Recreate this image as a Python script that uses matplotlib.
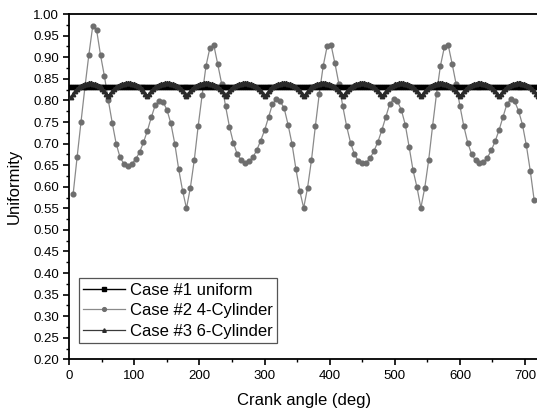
import matplotlib
matplotlib.use("Agg")
import matplotlib.pyplot as plt
from matplotlib.ticker import MultipleLocator

plt.rcParams["font.family"] = ["Liberation Sans", "DejaVu Sans"]

# Case #1: uniform firing, constant uniformity
uniform_x = list(range(0, 721, 3))
uniform_level = 0.832
uniform_y = [uniform_level] * len(uniform_x)

# Case #2: 4-cylinder, one point every 6 deg
cyl4_x = list(range(6, 715, 6))
cyl4_y = [
    # 6 .. 180
    0.584, 0.668, 0.750, 0.830, 0.905, 0.972, 0.963, 0.905, 0.856, 0.800,
    0.748, 0.700, 0.668, 0.653, 0.649, 0.653, 0.664, 0.680, 0.703, 0.730,
    0.761, 0.789, 0.798, 0.797, 0.778, 0.747, 0.700, 0.641, 0.591, 0.550,
    # 186 .. 360
    0.598, 0.662, 0.741, 0.812, 0.880, 0.922, 0.928, 0.884, 0.839, 0.787,
    0.739, 0.702, 0.675, 0.662, 0.655, 0.659, 0.668, 0.685, 0.707, 0.731,
    0.761, 0.791, 0.803, 0.798, 0.782, 0.744, 0.700, 0.642, 0.590, 0.551,
    # 366 .. 540
    0.598, 0.662, 0.741, 0.816, 0.880, 0.925, 0.929, 0.886, 0.839, 0.787,
    0.740, 0.702, 0.675, 0.660, 0.654, 0.656, 0.666, 0.683, 0.704, 0.731,
    0.761, 0.791, 0.803, 0.798, 0.778, 0.744, 0.692, 0.638, 0.599, 0.551,
    # 546 .. 714
    0.598, 0.662, 0.741, 0.815, 0.880, 0.923, 0.928, 0.885, 0.839, 0.787,
    0.740, 0.702, 0.675, 0.661, 0.655, 0.657, 0.667, 0.684, 0.705, 0.731,
    0.761, 0.791, 0.803, 0.798, 0.776, 0.744, 0.696, 0.637, 0.569,
]

# Case #3: 6-cylinder, one point every 3 deg (one row = 60 deg)
cyl6_x = list(range(3, 721, 3))
cyl6_y = [
    0.808, 0.816, 0.822, 0.827, 0.831, 0.834, 0.836, 0.838, 0.839, 0.840, 0.840, 0.839, 0.838, 0.836, 0.834, 0.831, 0.827, 0.822, 0.816, 0.811,
    0.816, 0.822, 0.827, 0.831, 0.834, 0.836, 0.838, 0.839, 0.840, 0.840, 0.840, 0.839, 0.838, 0.836, 0.834, 0.831, 0.827, 0.822, 0.816, 0.811,
    0.816, 0.822, 0.827, 0.831, 0.834, 0.836, 0.838, 0.839, 0.840, 0.840, 0.840, 0.839, 0.838, 0.836, 0.834, 0.831, 0.827, 0.822, 0.816, 0.811,
    0.816, 0.822, 0.827, 0.831, 0.834, 0.836, 0.838, 0.839, 0.840, 0.840, 0.840, 0.839, 0.838, 0.836, 0.834, 0.831, 0.827, 0.822, 0.816, 0.811,
    0.816, 0.822, 0.827, 0.831, 0.834, 0.836, 0.838, 0.839, 0.840, 0.840, 0.840, 0.839, 0.838, 0.836, 0.834, 0.831, 0.827, 0.822, 0.816, 0.811,
    0.816, 0.822, 0.827, 0.831, 0.834, 0.836, 0.838, 0.839, 0.840, 0.840, 0.840, 0.839, 0.838, 0.836, 0.834, 0.831, 0.827, 0.822, 0.816, 0.811,
    0.816, 0.822, 0.827, 0.831, 0.834, 0.836, 0.838, 0.839, 0.840, 0.840, 0.840, 0.839, 0.838, 0.836, 0.834, 0.831, 0.827, 0.822, 0.816, 0.811,
    0.816, 0.822, 0.827, 0.831, 0.834, 0.836, 0.838, 0.839, 0.840, 0.840, 0.840, 0.839, 0.838, 0.836, 0.834, 0.831, 0.827, 0.822, 0.816, 0.811,
    0.816, 0.822, 0.827, 0.831, 0.834, 0.836, 0.838, 0.839, 0.840, 0.840, 0.840, 0.839, 0.838, 0.836, 0.834, 0.831, 0.827, 0.822, 0.816, 0.811,
    0.816, 0.822, 0.827, 0.831, 0.834, 0.836, 0.838, 0.839, 0.840, 0.840, 0.840, 0.839, 0.838, 0.836, 0.834, 0.831, 0.827, 0.822, 0.816, 0.811,
    0.816, 0.822, 0.827, 0.831, 0.834, 0.836, 0.838, 0.839, 0.840, 0.840, 0.840, 0.839, 0.838, 0.836, 0.834, 0.831, 0.827, 0.822, 0.816, 0.811,
    0.816, 0.822, 0.827, 0.831, 0.834, 0.836, 0.838, 0.839, 0.840, 0.840, 0.840, 0.839, 0.838, 0.836, 0.834, 0.831, 0.827, 0.822, 0.816, 0.811,
]

labels = ["Case #1 uniform", "Case #2 4-Cylinder", "Case #3 6-Cylinder"]

fig = plt.figure(figsize=(5.37, 4.15), dpi=100)
ax = fig.add_axes([0.129, 0.134, 0.873, 0.832])

ax.plot(cyl4_x, cyl4_y, color="#8a8a8a", lw=0.9, marker="o", ms=3.4,
        mfc="#6e6e6e", mec="#6e6e6e", label=labels[1], zorder=2)
ax.plot(uniform_x, uniform_y, color="black", lw=1.0, marker="s", ms=3.2,
        mfc="black", mec="black", label=labels[0], zorder=3)
ax.plot(cyl6_x, cyl6_y, color="#3a3a3a", lw=0.9, marker="^", ms=3.2,
        mfc="#2a2a2a", mec="#2a2a2a", label=labels[2], zorder=4)

ax.set_xlim(0, 720)
ax.set_ylim(0.20, 1.00)
ax.xaxis.set_major_locator(MultipleLocator(100))
ax.xaxis.set_minor_locator(MultipleLocator(50))
ax.yaxis.set_major_locator(MultipleLocator(0.05))
ax.yaxis.set_minor_locator(MultipleLocator(0.025))
ax.yaxis.set_major_formatter(plt.FormatStrFormatter("%.2f"))
ax.tick_params(which="major", direction="out", length=4, width=1.2, labelsize=9.5,
               top=False, right=False)
ax.tick_params(which="minor", direction="out", length=2.5, width=1.0,
               top=False, right=False)
for side in ax.spines.values():
    side.set_linewidth(1.3)

ax.set_xlabel("Crank angle (deg)", fontsize=12, labelpad=8)
ax.set_ylabel("Uniformity", fontsize=12, labelpad=8)

handles, hl = ax.get_legend_handles_labels()
order = [hl.index(l) for l in labels]
leg = ax.legend([handles[i] for i in order], labels, loc="lower left",
                bbox_to_anchor=(0.021, 0.048), borderaxespad=0, fontsize=12,
                frameon=True, fancybox=False, framealpha=1, edgecolor="#555555",
                handlelength=2.5, handletextpad=0.3, labelspacing=0.33,
                borderpad=0.25, markerscale=0.8)
leg.get_frame().set_linewidth(0.9)

fig.savefig("out.png", dpi=100)
